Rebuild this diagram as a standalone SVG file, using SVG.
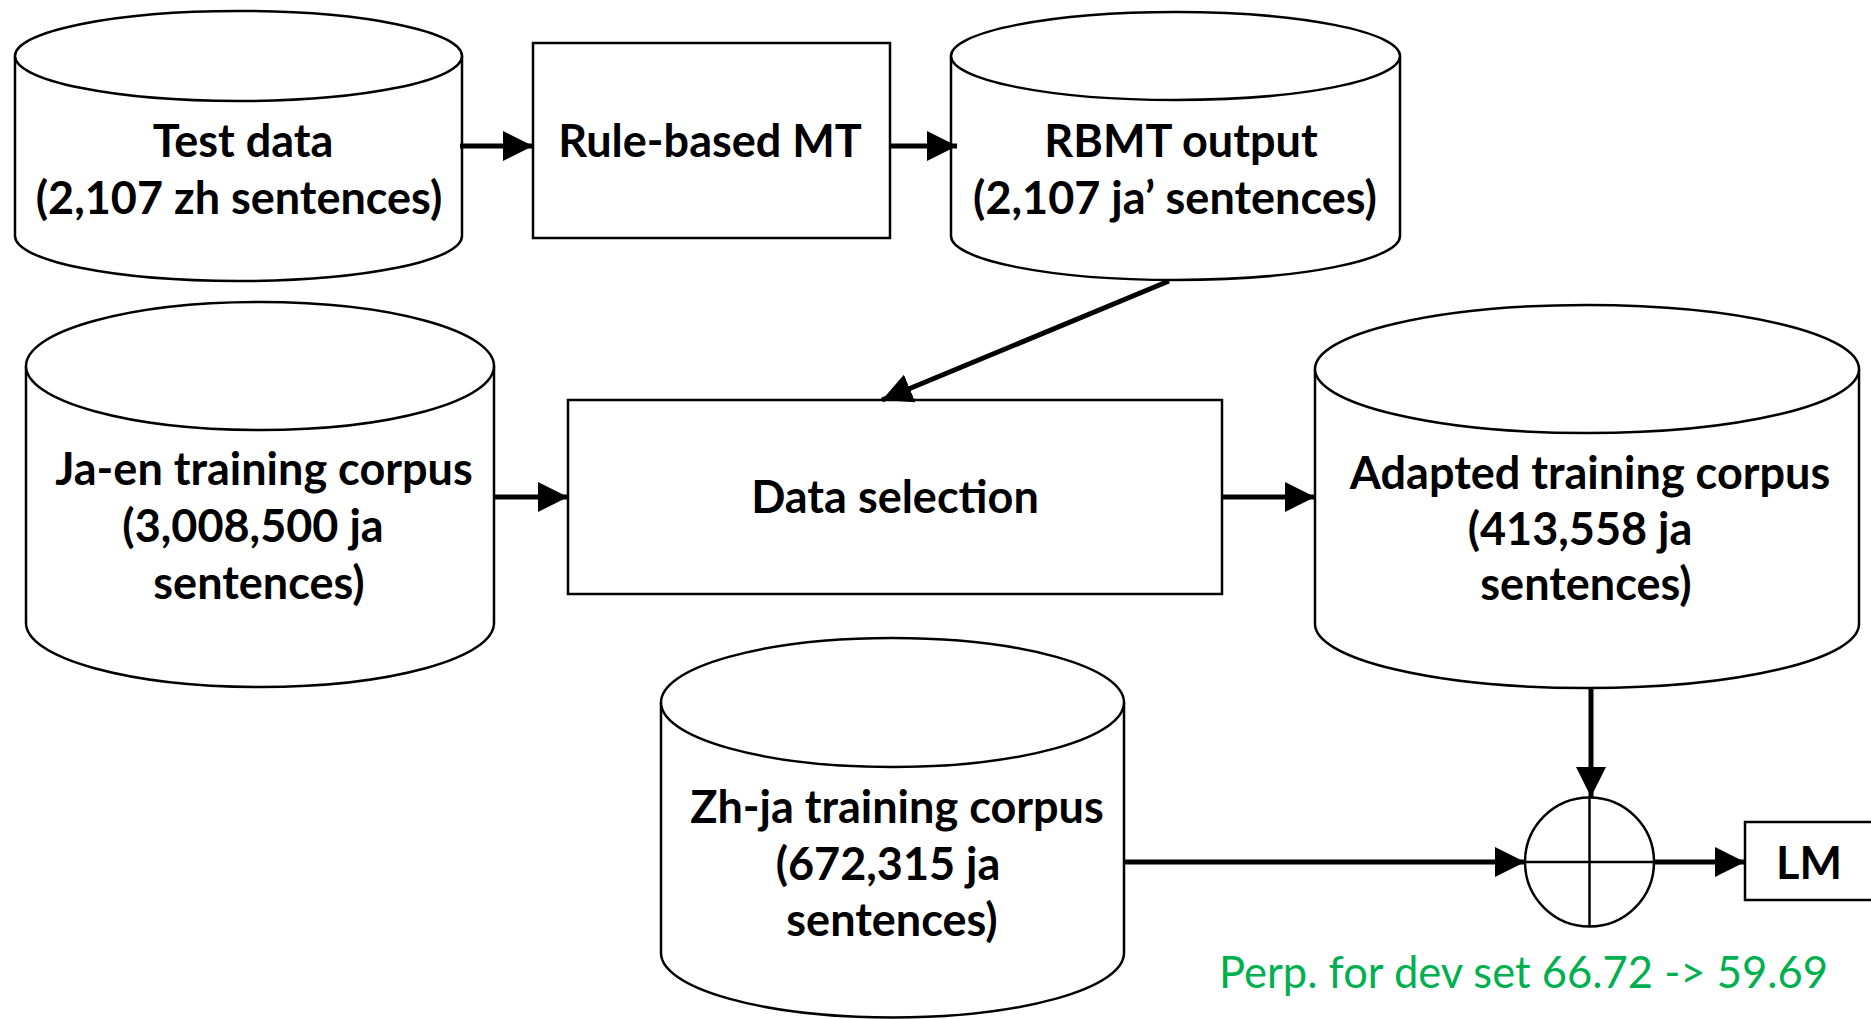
<svg xmlns="http://www.w3.org/2000/svg" width="1871" height="1019" viewBox="0 0 1871 1019">
<style>
.shape{fill:#fff;stroke:#000;stroke-width:2.5}
.lbl{font-family:Lato,"Open Sans","Liberation Sans",sans-serif;font-weight:bold;font-size:45px;fill:#000;text-anchor:middle}
.note{font-family:Lato,"Open Sans","Liberation Sans",sans-serif;font-size:44px;fill:#00B050}
.conn{stroke:#000;stroke-width:5;fill:none}
</style>
<defs>
<marker id="ah" markerUnits="userSpaceOnUse" markerWidth="30" markerHeight="30" refX="30" refY="15" orient="auto">
<path d="M0,0 L30,15 L0,30 z" fill="#000"/>
</marker>
</defs>
<rect width="1871" height="1019" fill="#fff"/>
<g id="test-data">
<path class="shape" d="M15,56 L15,236 A223.5,45 0 0 0 462,236 L462,56"/>
<ellipse class="shape" cx="238.5" cy="56" rx="223.5" ry="45"/>
<text class="lbl" x="243" y="157">Test data</text>
<text class="lbl" x="239" y="214">(2,107 zh sentences)</text>
</g>
<g id="rule-based-mt">
<rect class="shape" x="533" y="43" width="357" height="195"/>
<text class="lbl" x="710" y="157">Rule-based MT</text>
</g>
<g id="rbmt-output">
<path class="shape" d="M951,56 L951,236 A224.5,44 0 0 0 1400,236 L1400,56"/>
<ellipse class="shape" cx="1175.5" cy="56" rx="224.5" ry="44"/>
<text class="lbl" x="1181" y="157">RBMT output</text>
<text class="lbl" x="1175" y="214">(2,107 ja’ sentences)</text>
</g>
<g id="ja-en-corpus">
<path class="shape" d="M26,366 L26,623 A234,64 0 0 0 494,623 L494,366"/>
<ellipse class="shape" cx="260" cy="366" rx="234" ry="64"/>
<text class="lbl" x="264" y="485">Ja-en training corpus</text>
<text class="lbl" x="253" y="542">(3,008,500 ja</text>
<text class="lbl" x="259" y="599">sentences)</text>
</g>
<g id="data-selection">
<rect class="shape" x="568" y="400" width="654" height="194"/>
<text class="lbl" x="895" y="513">Data selection</text>
</g>
<g id="adapted-corpus">
<path class="shape" d="M1315,369 L1315,624 A272,64 0 0 0 1859,624 L1859,369"/>
<ellipse class="shape" cx="1587" cy="369" rx="272" ry="64"/>
<text class="lbl" x="1590" y="489">Adapted training corpus</text>
<text class="lbl" x="1580" y="545">(413,558 ja</text>
<text class="lbl" x="1586" y="600">sentences)</text>
</g>
<g id="zh-ja-corpus">
<path class="shape" d="M661,702.5 L661,953 A231.5,64.5 0 0 0 1124,953 L1124,702.5"/>
<ellipse class="shape" cx="892.5" cy="702.5" rx="231.5" ry="64.5"/>
<text class="lbl" x="897" y="823">Zh-ja training corpus</text>
<text class="lbl" x="888" y="880">(672,315 ja</text>
<text class="lbl" x="892" y="936">sentences)</text>
</g>
<g id="combine">
<circle class="shape" cx="1589.5" cy="862" r="64.5"/>
<line x1="1525" y1="862" x2="1654" y2="862" stroke="#000" stroke-width="2.5"/>
<line x1="1589.5" y1="797.5" x2="1589.5" y2="926.5" stroke="#000" stroke-width="2.5"/>
</g>
<g id="lm">
<rect class="shape" x="1745" y="822" width="140" height="78"/>
<text class="lbl" x="1809" y="879">LM</text>
</g>
<g id="perplexity-note">
<text class="note" x="1219" y="988" textLength="609" lengthAdjust="spacingAndGlyphs">Perp. for dev set 66.72 -&gt; 59.69</text>
</g>
<g id="connectors">
<line class="conn" x1="460" y1="146" x2="533" y2="146" marker-end="url(#ah)"/>
<line class="conn" x1="890" y1="146" x2="957" y2="146" marker-end="url(#ah)"/>
<line class="conn" x1="1169" y1="281" x2="882" y2="400" marker-end="url(#ah)"/>
<line class="conn" x1="494" y1="497" x2="568" y2="497" marker-end="url(#ah)"/>
<line class="conn" x1="1222" y1="497" x2="1315" y2="497" marker-end="url(#ah)"/>
<line class="conn" x1="1591" y1="688" x2="1591" y2="797" marker-end="url(#ah)"/>
<line class="conn" x1="1124" y1="862" x2="1525" y2="862" marker-end="url(#ah)"/>
<line class="conn" x1="1654" y1="862" x2="1745" y2="862" marker-end="url(#ah)"/>
</g>
</svg>
